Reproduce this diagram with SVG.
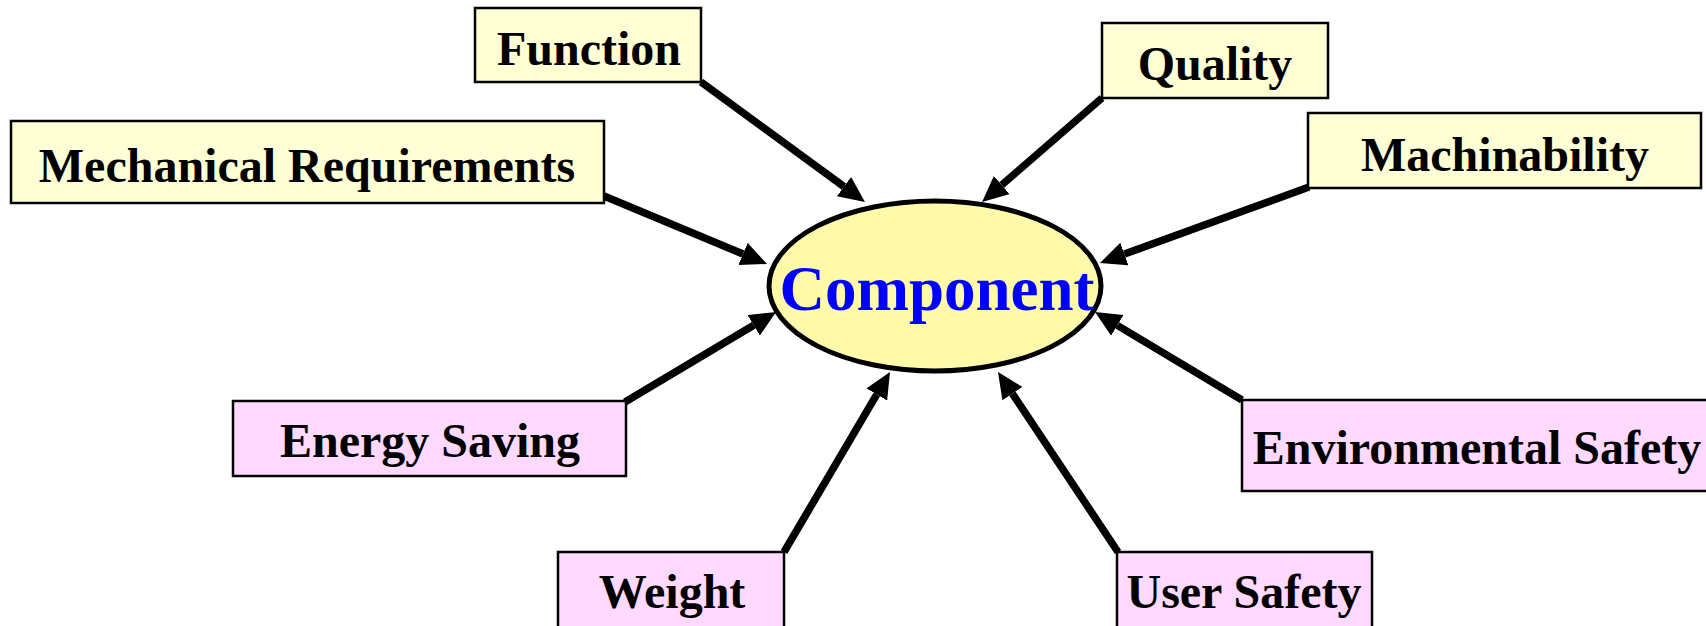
<svg xmlns="http://www.w3.org/2000/svg" width="1706" height="626" viewBox="0 0 1706 626">
  <style>
    .box { stroke: #000; stroke-width: 2.5; }
    .req { fill: #FFFFD6; }
    .safe { fill: #FFD9FF; }
    .lbl { font-family: "Liberation Serif", "Times New Roman", serif; font-weight: bold; font-size: 48px; fill: #000; text-anchor: middle; }
    .conn { stroke: #000; stroke-width: 7.5; fill: none; marker-end: url(#ah); }
  </style>
  <defs>
    <marker id="ah" markerUnits="userSpaceOnUse" markerWidth="30" markerHeight="26" refX="0" refY="12" orient="auto">
      <path d="M0,0 L26,12 L0,24 z" fill="#000"/>
    </marker>
  </defs>
  <rect width="1706" height="626" fill="#fff"/>

  <g id="connectors">
    <line class="conn" x1="701" y1="82" x2="844.0" y2="186.6"/>
    <line class="conn" x1="604" y1="196" x2="743.0" y2="254.0"/>
    <line class="conn" x1="1102" y1="98" x2="1001.7" y2="185.0"/>
    <line class="conn" x1="1309" y1="187" x2="1124.4" y2="254.1"/>
    <line class="conn" x1="625" y1="402" x2="753.7" y2="325.3"/>
    <line class="conn" x1="784" y1="552" x2="876.8" y2="394.4"/>
    <line class="conn" x1="1118" y1="552" x2="1012.4" y2="393.6"/>
    <line class="conn" x1="1242" y1="400" x2="1117.3" y2="325.4"/>
  </g>

  <g id="component">
    <ellipse cx="935" cy="286" rx="166" ry="85" fill="#FFFAAA" stroke="#000" stroke-width="5"/>
    <text x="937" y="310" font-family="'Liberation Serif', 'Times New Roman', serif" font-weight="bold" font-size="63" fill="#0000FF" text-anchor="middle">Component</text>
  </g>

  <g id="function">
    <rect class="box req" x="475" y="8" width="226" height="74"/>
    <text class="lbl" x="589" y="65">Function</text>
  </g>
  <g id="mechanical">
    <rect class="box req" x="11" y="121" width="593" height="82"/>
    <text class="lbl" x="307" y="182">Mechanical Requirements</text>
  </g>
  <g id="quality">
    <rect class="box req" x="1102" y="23" width="226" height="75"/>
    <text class="lbl" x="1215" y="80">Quality</text>
  </g>
  <g id="machinability">
    <rect class="box req" x="1308" y="113" width="393" height="75"/>
    <text class="lbl" x="1505" y="171">Machinability</text>
  </g>
  <g id="energy">
    <rect class="box safe" x="233" y="401" width="393" height="75"/>
    <text class="lbl" x="430" y="457">Energy Saving</text>
  </g>
  <g id="weight">
    <rect class="box safe" x="558" y="552" width="226" height="90"/>
    <text class="lbl" x="672" y="608">Weight</text>
  </g>
  <g id="usersafety">
    <rect class="box safe" x="1117" y="552" width="255" height="90"/>
    <text class="lbl" x="1244" y="608">User Safety</text>
  </g>
  <g id="envsafety">
    <rect class="box safe" x="1242" y="400" width="480" height="91"/>
    <text class="lbl" x="1477" y="464">Environmental Safety</text>
  </g>
</svg>
